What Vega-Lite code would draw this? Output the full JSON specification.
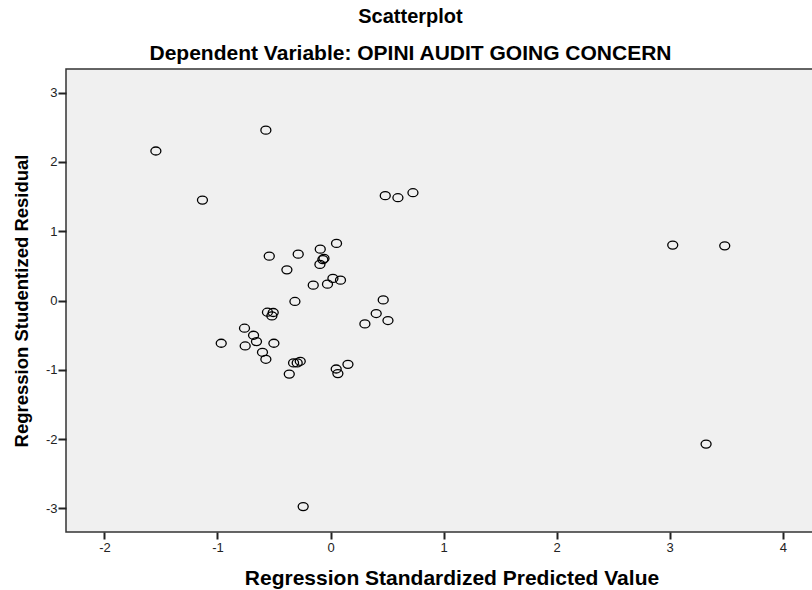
{
  "$schema": "https://vega.github.io/schema/vega-lite/v6.json",
  "autosize": "none",
  "width": 771,
  "height": 463,
  "padding": {"left": 66, "top": 69, "right": 0, "bottom": 58},
  "background": "white",
  "title": {
    "text": "Scatterplot",
    "subtitle": "Dependent Variable: OPINI AUDIT GOING CONCERN",
    "anchor": "middle",
    "frame": "group",
    "dx": -41,
    "font": "Liberation Sans",
    "fontSize": 20,
    "fontWeight": "bold",
    "color": "#000",
    "subtitleFont": "Liberation Sans",
    "subtitleFontSize": 21,
    "subtitleFontWeight": "bold",
    "subtitleColor": "#000",
    "subtitlePadding": 16,
    "offset": 5
  },
  "config": {
    "view": {"fill": "#f0f0f0", "stroke": "#333333", "strokeWidth": 1.5}
  },
  "data": {
    "values": [
      {"pred": -1.545, "resid": 2.157},
      {"pred": -0.572, "resid": 2.457},
      {"pred": -1.133, "resid": 1.449},
      {"pred": 0.484, "resid": 1.512},
      {"pred": 0.596, "resid": 1.483},
      {"pred": 0.729, "resid": 1.555},
      {"pred": 0.053, "resid": 0.824},
      {"pred": -0.091, "resid": 0.741},
      {"pred": -0.542, "resid": 0.64},
      {"pred": -0.286, "resid": 0.669},
      {"pred": -0.058, "resid": 0.607},
      {"pred": -0.068, "resid": 0.59},
      {"pred": -0.094, "resid": 0.52},
      {"pred": -0.386, "resid": 0.442},
      {"pred": 0.021, "resid": 0.318},
      {"pred": 0.088, "resid": 0.293},
      {"pred": -0.153, "resid": 0.221},
      {"pred": -0.027, "resid": 0.236},
      {"pred": 0.466, "resid": 0.009},
      {"pred": -0.315, "resid": -0.014},
      {"pred": 0.404, "resid": -0.188},
      {"pred": 0.508, "resid": -0.289},
      {"pred": 0.304, "resid": -0.338},
      {"pred": -0.558, "resid": -0.169},
      {"pred": -0.507, "resid": -0.173},
      {"pred": -0.519, "resid": -0.222},
      {"pred": -0.761, "resid": -0.4},
      {"pred": -0.681, "resid": -0.501},
      {"pred": -0.655, "resid": -0.593},
      {"pred": -0.967, "resid": -0.617},
      {"pred": -0.755, "resid": -0.656},
      {"pred": -0.501, "resid": -0.617},
      {"pred": -0.602, "resid": -0.747},
      {"pred": -0.572, "resid": -0.848},
      {"pred": -0.327, "resid": -0.901},
      {"pred": -0.295, "resid": -0.901},
      {"pred": -0.268, "resid": -0.877},
      {"pred": -0.365, "resid": -1.061},
      {"pred": 0.154, "resid": -0.921},
      {"pred": 0.05, "resid": -0.988},
      {"pred": 0.065, "resid": -1.055},
      {"pred": 3.027, "resid": 0.799},
      {"pred": 3.487, "resid": 0.789},
      {"pred": 3.322, "resid": -2.072},
      {"pred": -0.242, "resid": -2.973}
    ]
  },
  "mark": {
    "type": "point",
    "shape": "M -1,0 A 1,0.8 0 1,1 1,0 A 1,0.8 0 1,1 -1,0 Z",
    "size": 100,
    "filled": false,
    "stroke": "#000000",
    "strokeWidth": 1.3,
    "opacity": 1
  },
  "encoding": {
    "x": {
      "field": "pred",
      "type": "quantitative",
      "scale": {"domain": [-2.34, 4.48], "nice": false, "zero": false},
      "axis": {
        "title": "Regression Standardized Predicted Value",
        "values": [-2, -1, 0, 1, 2, 3, 4],
        "labelExpr": "datum.value + ''",
        "grid": false,
        "domain": false,
        "ticks": true,
        "tickSize": 7,
        "tickWidth": 2,
        "tickColor": "#222222",
        "labelFont": "Liberation Sans",
        "labelFontSize": 13,
        "labelColor": "#222222",
        "labelPadding": 2,
        "titleFont": "Liberation Sans",
        "titleFontSize": 21,
        "titleFontWeight": "bold",
        "titleColor": "#000000",
        "titlePadding": 13
      }
    },
    "y": {
      "field": "resid",
      "type": "quantitative",
      "scale": {"domain": [-3.34, 3.34], "nice": false, "zero": false},
      "axis": {
        "title": "Regression Studentized Residual",
        "values": [-3, -2, -1, 0, 1, 2, 3],
        "labelExpr": "datum.value + ''",
        "grid": false,
        "domain": false,
        "ticks": true,
        "tickSize": 8,
        "tickWidth": 2,
        "tickColor": "#222222",
        "labelFont": "Liberation Sans",
        "labelFontSize": 13,
        "labelColor": "#222222",
        "labelPadding": 1,
        "titleFont": "Liberation Sans",
        "titleFontSize": 18.5,
        "titleFontWeight": "bold",
        "titleColor": "#000000",
        "titlePadding": 14
      }
    }
  }
}
